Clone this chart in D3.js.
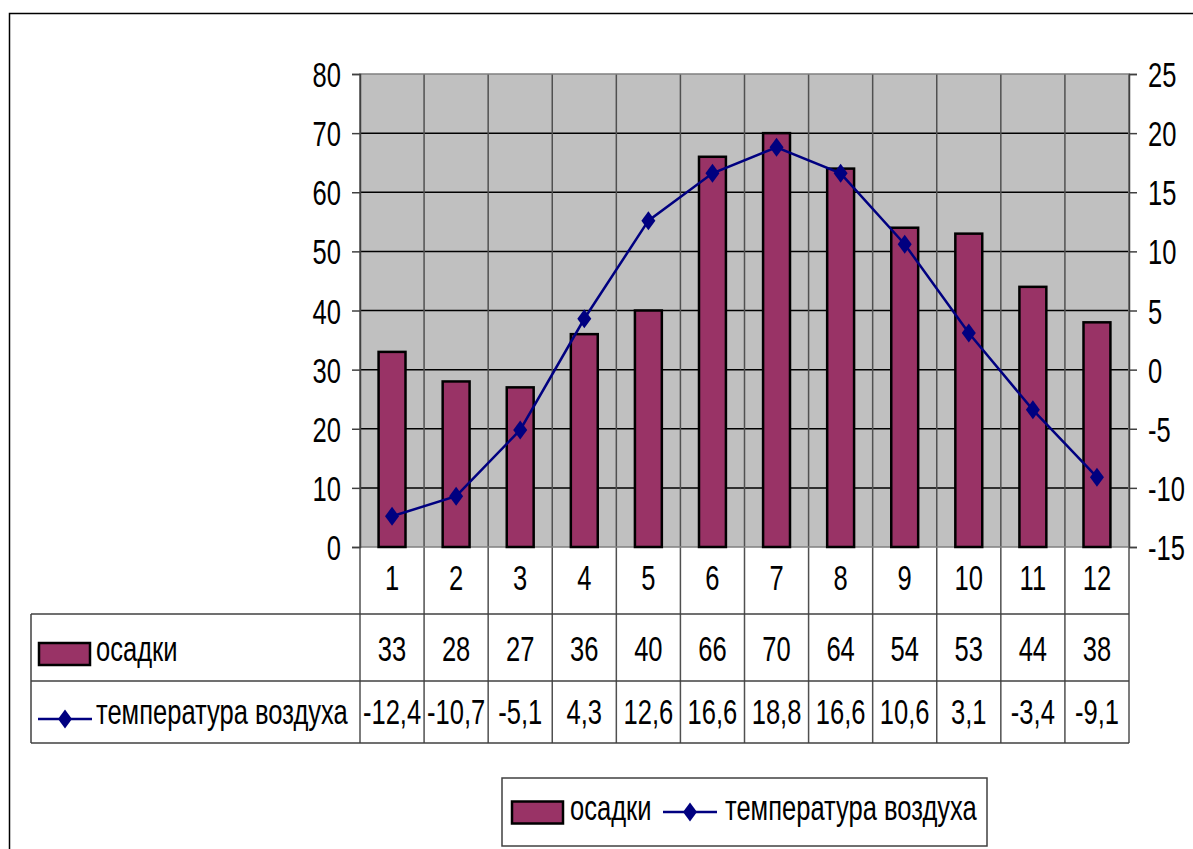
<!DOCTYPE html>
<html>
<head>
<meta charset="utf-8">
<script src="https://cdnjs.cloudflare.com/ajax/libs/d3/7.8.5/d3.min.js"></script>
<style>
  html, body { margin: 0; padding: 0; background: #fff; }
  svg { display: block; }
  text { font-family: "Liberation Sans", Arial, sans-serif; fill: #000; }
</style>
</head>
<body>
<svg id="chart" width="1193" height="849"></svg>
<script>
// Months, precipitation (mm) and mean air temperature (°C)
const months = ["1", "2", "3", "4", "5", "6", "7", "8", "9", "10", "11", "12"];
const precipitation = [33, 28, 27, 36, 40, 66, 70, 64, 54, 53, 44, 38];
const temperature = [-12.4, -10.7, -5.1, 4.3, 12.6, 16.6, 18.8, 16.6, 10.6, 3.1, -3.4, -9.1];
const leftTicks = [0, 10, 20, 30, 40, 50, 60, 70, 80];
const rightTicks = [-15, -10, -5, 0, 5, 10, 15, 20, 25];
const seriesNames = ["осадки", "температура воздуха"];

const barColor = "#993366";
const lineColor = "#000080";
const fontSize = 36;
const narrow = 0.71;   // horizontal squeeze for a condensed look

const ru = d3.formatLocale({ decimal: ",", thousands: " ", grouping: [3], currency: ["", ""], minus: "-" });
const fmtTemp = ru.format(".1f");
const fmtInt = ru.format("d");

const svg = d3.select("#chart");

// condensed text label
function label(g, x0, y0, txt, anchor) {
  return g.append("text")
    .attr("transform", `translate(${x0},${y0}) scale(${narrow},1)`)
    .attr("dy", "0.35em")
    .attr("text-anchor", anchor || "start")
    .attr("font-size", fontSize)
    .text(txt);
}

// outer chart frame
svg.append("rect")
  .attr("x", 9.5).attr("y", 13.5)
  .attr("width", 1300).attr("height", 1000)
  .attr("fill", "none").attr("stroke", "#000").attr("stroke-width", 1.5);

const plot = { left: 360, right: 1129, top: 74, bottom: 547 };
const table = { left: 31, row1: 614, row2: 681, row3: 743 };

const x = d3.scaleBand().domain(months).range([plot.left, plot.right]).padding(0);
const yL = d3.scaleLinear().domain([0, 80]).range([plot.bottom, plot.top]);
const yR = d3.scaleLinear().domain([-15, 25]).range([plot.bottom, plot.top]);

// plot background
svg.append("rect")
  .attr("x", plot.left).attr("y", plot.top)
  .attr("width", plot.right - plot.left).attr("height", plot.bottom - plot.top)
  .attr("fill", "#c0c0c0");

// horizontal gridlines
svg.append("g").selectAll("line")
  .data(leftTicks.filter(d => d > 0 && d < 80))
  .join("line")
  .attr("x1", plot.left).attr("x2", plot.right)
  .attr("y1", d => yL(d)).attr("y2", d => yL(d))
  .attr("stroke", "#000").attr("stroke-width", 1.5);

// category separators through plot and table
const bounds = months.map(m => x(m)).concat([plot.right]);
svg.append("g").selectAll("line")
  .data(bounds)
  .join("line")
  .attr("x1", d => d).attr("x2", d => d)
  .attr("y1", plot.top).attr("y2", table.row3)
  .attr("stroke", "#505050").attr("stroke-width", 1.5);

// plot border
svg.append("rect")
  .attr("x", plot.left).attr("y", plot.top)
  .attr("width", plot.right - plot.left).attr("height", plot.bottom - plot.top)
  .attr("fill", "none").attr("stroke", "#808080").attr("stroke-width", 1.5);

// table horizontal rules
svg.append("g").selectAll("line")
  .data([table.row1, table.row2, table.row3])
  .join("line")
  .attr("x1", table.left).attr("x2", plot.right)
  .attr("y1", d => d).attr("y2", d => d)
  .attr("stroke", "#404040").attr("stroke-width", 1.5);
svg.append("line")
  .attr("x1", table.left).attr("x2", table.left)
  .attr("y1", table.row1).attr("y2", table.row3)
  .attr("stroke", "#404040").attr("stroke-width", 1.5);

// axes
const axisL = d3.axisLeft(yL).tickValues(leftTicks).tickSize(8).tickFormat(fmtInt);
const gL = svg.append("g").attr("transform", `translate(${plot.left},0)`).call(axisL);
const axisR = d3.axisRight(yR).tickValues(rightTicks).tickSize(8).tickFormat(fmtInt);
const gR = svg.append("g").attr("transform", `translate(${plot.right},0)`).call(axisR);
[[gL, -19], [gR, 19]].forEach(([g, off]) => {
  g.select(".domain").attr("stroke", "#404040").attr("stroke-width", 1.5);
  g.selectAll(".tick line").attr("stroke", "#404040").attr("stroke-width", 1.5);
  g.selectAll(".tick text")
    .attr("x", null)
    .attr("transform", `translate(${off},0) scale(${narrow},1)`)
    .attr("font-size", fontSize).attr("fill", "#000")
    .attr("font-family", null).attr("dy", "0.35em");
});

// bars
const barW = x.bandwidth() * 0.42;
svg.append("g").selectAll("rect")
  .data(precipitation)
  .join("rect")
  .attr("x", (d, i) => x(months[i]) + x.bandwidth() / 2 - barW / 2)
  .attr("y", d => yL(d))
  .attr("width", barW)
  .attr("height", d => yL(0) - yL(d))
  .attr("fill", barColor).attr("stroke", "#000").attr("stroke-width", 2.5);

// temperature line
const cx = (d, i) => x(months[i]) + x.bandwidth() / 2;
svg.append("path")
  .datum(temperature)
  .attr("d", d3.line().x(cx).y(d => yR(d)))
  .attr("fill", "none").attr("stroke", lineColor).attr("stroke-width", 2.5);

const diamond = "M0,-9.5L7,0L0,9.5L-7,0Z";
svg.append("g").selectAll("path")
  .data(temperature)
  .join("path")
  .attr("transform", (d, i) => `translate(${cx(d, i)},${yR(d)})`)
  .attr("d", diamond)
  .attr("fill", lineColor);

// data table text
const rowY = [577, 648, 711];
const rows = [months, precipitation.map(fmtInt), temperature.map(fmtTemp)];
rows.forEach((vals, r) => {
  const g = svg.append("g");
  vals.forEach((v, i) => label(g, x(months[i]) + x.bandwidth() / 2, rowY[r], v, "middle"));
});

// legend key helpers
function barKey(g, x0, y0) {
  g.append("rect").attr("x", x0).attr("y", y0 - 11).attr("width", 51).attr("height", 22)
    .attr("fill", barColor).attr("stroke", "#000").attr("stroke-width", 2.5);
}
function lineKey(g, x0, y0) {
  g.append("line").attr("x1", x0).attr("x2", x0 + 54).attr("y1", y0).attr("y2", y0)
    .attr("stroke", lineColor).attr("stroke-width", 2.5);
  g.append("path").attr("transform", `translate(${x0 + 27},${y0})`).attr("d", diamond).attr("fill", lineColor);
}

// table row headers
const th = svg.append("g");
barKey(th, 39, 654);
label(th, 96, 648, seriesNames[0]);
lineKey(th, 38, 719);
label(th, 96, 711, seriesNames[1]);

// bottom legend
const lg = svg.append("g");
lg.append("rect").attr("x", 502).attr("y", 778).attr("width", 485).attr("height", 68)
  .attr("fill", "#fff").attr("stroke", "#404040").attr("stroke-width", 1.5);
barKey(lg, 512, 812.5);
label(lg, 570, 807, seriesNames[0]);
lineKey(lg, 663, 812);
label(lg, 725, 807, seriesNames[1]);
</script>
</body>
</html>
